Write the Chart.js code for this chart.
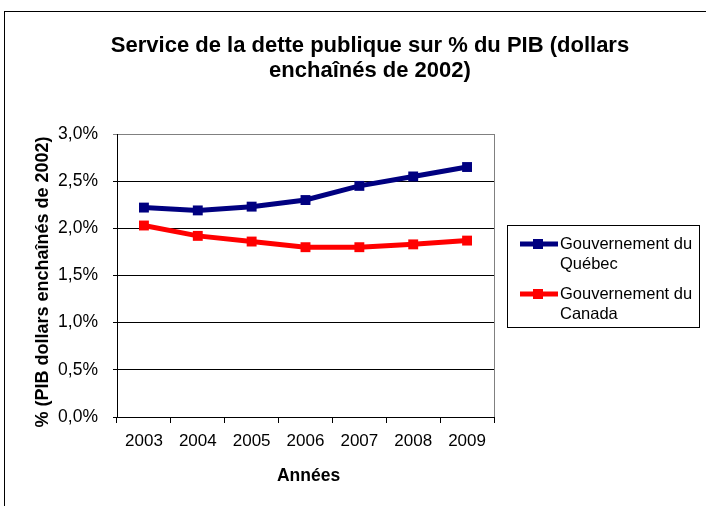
<!DOCTYPE html>
<html>
<head>
<meta charset="utf-8">
<script src="https://cdn.jsdelivr.net/npm/chart.js@4"></script>
<style>
  html, body { margin: 0; padding: 0; background: #fff; }
  #wrap { width: 706px; height: 506px; position: relative; }
</style>
</head>
<body>
<div id="wrap"><canvas id="c" width="706" height="506"></canvas></div>
<script>
const categories = ['2003', '2004', '2005', '2006', '2007', '2008', '2009'];
const quebecValues = [2.22, 2.19, 2.23, 2.30, 2.45, 2.55, 2.65];
const canadaValues = [2.03, 1.92, 1.86, 1.80, 1.80, 1.83, 1.87];
const yTickValues = [0, 0.5, 1.0, 1.5, 2.0, 2.5, 3.0];
const yTickLabels = ['0,0%', '0,5%', '1,0%', '1,5%', '2,0%', '2,5%', '3,0%'];
const seriesNames = [['Gouvernement du', 'Québec'], ['Gouvernement du', 'Canada']];
const titleLines = ['Service de la dette publique sur % du PIB (dollars', 'enchaînés de 2002)'];
const yTitle = '% (PIB dollars enchaînés de 2002)';
const xTitle = 'Années';

const FONT = "'Liberation Sans', Arial, sans-serif";
const NAVY = '#000080';
const RED = '#FF0000';

const decorPlugin = {
  id: 'decor',
  beforeDraw(chart) {
    const ctx = chart.ctx;
    ctx.save();
    ctx.fillStyle = '#fff';
    ctx.fillRect(0, 0, chart.width, chart.height);
    ctx.restore();
  },
  afterDraw(chart) {
    const ctx = chart.ctx;
    const a = chart.chartArea;
    ctx.save();
    // outer frame
    ctx.strokeStyle = '#000';
    ctx.lineWidth = 1;
    ctx.strokeRect(4.5, 11.5, 1000, 1000);
    // plot area right border
    ctx.strokeStyle = '#808080';
    ctx.beginPath();
    ctx.moveTo(Math.round(a.right) + 0.5, a.top);
    ctx.lineTo(Math.round(a.right) + 0.5, a.bottom);
    ctx.stroke();
    // title
    ctx.fillStyle = '#000';
    ctx.font = 'bold 22px ' + FONT;
    ctx.textAlign = 'center';
    ctx.textBaseline = 'middle';
    ctx.fillText(titleLines[0], 370, 46);
    ctx.fillText(titleLines[1], 370, 71);
    // axis titles
    ctx.font = 'bold 17.5px ' + FONT;
    ctx.fillText(xTitle, (a.left + a.right) / 2 + 3, 476);
    ctx.font = 'bold 18px ' + FONT;
    ctx.save();
    ctx.translate(43, 282);
    ctx.rotate(-Math.PI / 2);
    ctx.fillText(yTitle, 0, 0);
    ctx.restore();
    // legend
    const lx = 507.5, ly = 225.5, lw = 192, lh = 102;
    ctx.strokeStyle = '#000';
    ctx.lineWidth = 1;
    ctx.strokeRect(lx, ly, lw, lh);
    ctx.font = '16.5px ' + FONT;
    ctx.textAlign = 'left';
    chart.data.datasets.forEach((ds, i) => {
      const y0 = 244 + i * 50;
      ctx.strokeStyle = ds.borderColor;
      ctx.lineWidth = 5;
      ctx.beginPath();
      ctx.moveTo(520, y0);
      ctx.lineTo(558, y0);
      ctx.stroke();
      ctx.fillStyle = ds.borderColor;
      ctx.fillRect(533, y0 - 5, 10, 10);
      ctx.fillStyle = '#000';
      seriesNames[i].forEach((t, j) => ctx.fillText(t, 560, y0 + j * 20));
    });
    ctx.restore();
  }
};

new Chart(document.getElementById('c'), {
  type: 'line',
  data: {
    labels: categories,
    datasets: [
      {
        label: seriesNames[0].join(' '),
        data: quebecValues,
        borderColor: NAVY,
        backgroundColor: NAVY,
        borderWidth: 5,
        pointStyle: 'rect',
        pointRadius: 7,
        pointHoverRadius: 7,
        pointBorderWidth: 0,
        tension: 0
      },
      {
        label: seriesNames[1].join(' '),
        data: canadaValues,
        borderColor: RED,
        backgroundColor: RED,
        borderWidth: 5,
        pointStyle: 'rect',
        pointRadius: 7,
        pointHoverRadius: 7,
        pointBorderWidth: 0,
        tension: 0
      }
    ]
  },
  options: {
    responsive: false,
    animation: false,
    devicePixelRatio: 1,
    layout: { padding: { left: 0, top: 134, right: 212, bottom: 0 } },
    plugins: {
      legend: { display: false },
      title: { display: false },
      tooltip: { enabled: false }
    },
    scales: {
      x: {
        offset: true,
        afterFit(scale) { scale.height = 89; },
        grid: {
          display: true,
          drawOnChartArea: false,
          drawTicks: true,
          tickLength: 6,
          color: '#000',
          offset: true
        },
        border: { display: true, color: '#000', width: 1 },
        ticks: {
          color: '#000',
          font: { family: FONT, size: 17 },
          padding: 8,
          maxRotation: 0
        }
      },
      y: {
        min: 0,
        max: 3,
        afterFit(scale) { scale.width = 117; },
        afterBuildTicks(scale) { scale.ticks = yTickValues.map(v => ({ value: v })); },
        grid: {
          color: (c) => (c.tick && c.tick.value === 3 ? '#808080' : '#000'),
          drawTicks: true,
          tickLength: 4,
          lineWidth: 1
        },
        border: { display: true, color: '#000', width: 1 },
        ticks: {
          color: '#000',
          font: { family: FONT, size: 17.5 },
          padding: 15,
          callback: (v) => yTickLabels[yTickValues.indexOf(v)]
        }
      }
    }
  },
  plugins: [decorPlugin]
});
</script>
</body>
</html>
